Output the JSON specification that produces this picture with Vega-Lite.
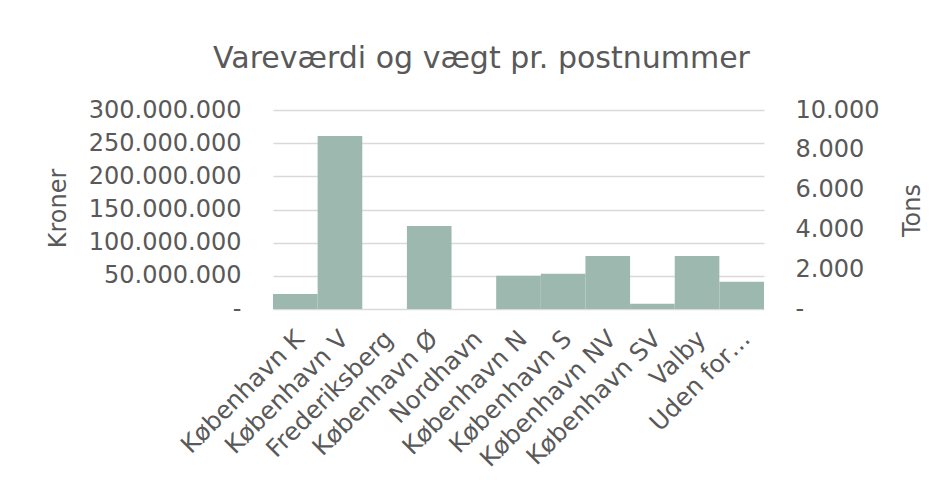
{
  "$schema": "https://vega.github.io/schema/vega-lite/v6.json",
  "autosize": "none",
  "padding": {"left": 273, "top": 110, "right": 182, "bottom": 171},
  "width": 491,
  "height": 199,
  "background": "white",
  "title": {
    "text": "Vareværdi og vægt pr. postnummer",
    "font": "DejaVu Sans",
    "fontSize": 30,
    "fontWeight": "normal",
    "color": "#595959",
    "anchor": "middle",
    "dx": -37,
    "baseline": "alphabetic",
    "offset": 0
  },
  "data": {
    "values": [
      {"Postnummer": "København K", "Kroner": 22600000, "Tons": null},
      {"Postnummer": "København V", "Kroner": 260800000, "Tons": null},
      {"Postnummer": "Frederiksberg", "Kroner": 0, "Tons": null},
      {"Postnummer": "København Ø", "Kroner": 125100000, "Tons": null},
      {"Postnummer": "Nordhavn", "Kroner": 0, "Tons": null},
      {"Postnummer": "København N", "Kroner": 50200000, "Tons": null},
      {"Postnummer": "København S", "Kroner": 53200000, "Tons": null},
      {"Postnummer": "København NV", "Kroner": 79900000, "Tons": null},
      {"Postnummer": "København SV", "Kroner": 8000000, "Tons": null},
      {"Postnummer": "Valby", "Kroner": 80000000, "Tons": null},
      {"Postnummer": "Uden for…", "Kroner": 41200000, "Tons": null}
    ]
  },
  "encoding": {
    "x": {
      "field": "Postnummer",
      "type": "nominal",
      "sort": null,
      "scale": {"paddingInner": 0, "paddingOuter": 0},
      "axis": {
        "title": null,
        "labelAngle": -45,
        "labelAlign": "right",
        "labelBaseline": "middle",
        "labelFont": "DejaVu Sans",
        "labelFontSize": 24.5,
        "labelColor": "#595959",
        "labelPadding": 26,
        "labelOffset": 5,
        "domain": false,
        "ticks": false,
        "labelOverlap": false,
        "labelLimit": 0
      }
    }
  },
  "layer": [
    {
      "mark": {"type": "bar", "color": "#9db8ae"},
      "encoding": {
        "y": {
          "field": "Kroner",
          "type": "quantitative",
          "scale": {"domain": [0, 300000000], "nice": false},
          "axis": {
            "title": "Kroner",
            "titleFont": "DejaVu Sans",
            "titleFontSize": 24,
            "titleFontWeight": "normal",
            "titleColor": "#595959",
            "titleAngle": -90,
            "titleAlign": "center",
            "titleBaseline": "middle",
            "titleX": -215,
            "titleY": 98,
            "values": [0, 50000000, 100000000, 150000000, 200000000, 250000000, 300000000],
            "labelExpr": "datum.value == 0 ? '-\u00a0\u00a0\u00a0' : replace(format(datum.value, ','), regexp(',', 'g'), '.')",
            "labelFont": "DejaVu Sans",
            "labelFontSize": 24,
            "labelColor": "#595959",
            "labelPadding": 32,
            "domain": false,
            "ticks": false,
            "grid": true,
            "gridColor": "#d9d9d9",
            "gridWidth": 1.3
          }
        }
      }
    },
    {
      "mark": {"type": "point", "opacity": 0},
      "encoding": {
        "y": {
          "field": "Tons",
          "type": "quantitative",
          "scale": {"domain": [0, 10000], "nice": false},
          "axis": {
            "orient": "right",
            "title": "Tons",
            "titleFont": "DejaVu Sans",
            "titleFontSize": 24,
            "titleFontWeight": "normal",
            "titleColor": "#595959",
            "titleAngle": -90,
            "titleAlign": "center",
            "titleBaseline": "middle",
            "titleX": 148,
            "titleY": 100,
            "values": [0, 2000, 4000, 6000, 8000, 10000],
            "labelExpr": "datum.value == 0 ? '-' : replace(format(datum.value, ','), regexp(',', 'g'), '.')",
            "labelFont": "DejaVu Sans",
            "labelFontSize": 24,
            "labelColor": "#595959",
            "labelPadding": 31,
            "domain": false,
            "ticks": false,
            "grid": false
          }
        }
      }
    }
  ],
  "resolve": {"scale": {"y": "independent"}},
  "config": {"view": {"stroke": null}}
}
